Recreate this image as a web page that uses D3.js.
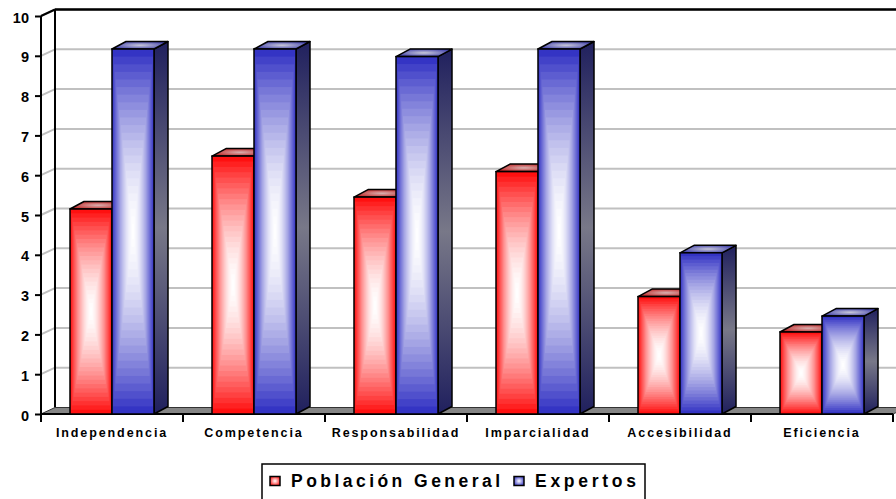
<!DOCTYPE html>
<html><head><meta charset="utf-8">
<script src="https://cdn.jsdelivr.net/npm/d3@7"></script>
<style>body{margin:0;background:#fff}svg{display:block}</style>
</head><body>
<svg id="c" width="896" height="499"></svg>
<script>
const categories = ["Independencia","Competencia","Responsabilidad","Imparcialidad","Accesibilidad","Eficiencia"];
const seriesNames = ["Población General","Expertos"];
const poblacionGeneral = [5.15, 6.48, 5.45, 6.09, 2.95, 2.06];
const expertos = [9.17, 9.17, 8.98, 9.17, 4.05, 2.46];
const yTicks = [0,1,2,3,4,5,6,7,8,9,10];

const W = 896, H = 499;
const svg = d3.select("#c");
svg.append("rect").attr("width",W).attr("height",H).attr("fill","#fff");
const defs = svg.append("defs");

const x = d3.scaleBand().domain(categories).range([41, 893]).padding(0);
const xs = d3.scaleBand().domain(seriesNames).range([29, 113]).padding(0);
const y = d3.scaleLinear().domain([0,10]).range([414,16]);

const wdx = 14, wdy = -6.5; // wall depth
const bdx = 14, bdy = -7.5; // bar depth

const styles = {
  "Población General": {edge:"#ff1010", sideA:"#701010", sideB:"#9a7070", topEdge:"#c01818", topMid:"#d8b0b0"},
  "Expertos": {edge:"#3434c4", sideA:"#20205e", sideB:"#787888", topEdge:"#3434a8", topMid:"#c8c8d8"}
};

seriesNames.forEach((s,i)=>{
  const st = styles[s];
  const side = defs.append("linearGradient").attr("id","side"+i).attr("x1",0).attr("y1",0).attr("x2",0).attr("y2",1);
  side.append("stop").attr("offset","0").attr("stop-color",st.sideA);
  side.append("stop").attr("offset","0.5").attr("stop-color",st.sideB);
  side.append("stop").attr("offset","1").attr("stop-color",st.sideA);
  const top = defs.append("radialGradient").attr("id","top"+i).attr("cx",0.5).attr("cy",0.5).attr("r",0.6);
  top.append("stop").attr("offset","0").attr("stop-color",st.topMid);
  top.append("stop").attr("offset","1").attr("stop-color",st.topEdge);
  const leg = defs.append("radialGradient").attr("id","leg"+i).attr("cx",0.5).attr("cy",0.5).attr("r",0.6);
  leg.append("stop").attr("offset","0").attr("stop-color","#fff");
  leg.append("stop").attr("offset","1").attr("stop-color",st.edge);
});

const grid = svg.append("g");
yTicks.filter(v=>v>0).forEach(v=>{
  grid.append("line").attr("x1",41+wdx).attr("x2",W).attr("y1",y(v)+wdy).attr("y2",y(v)+wdy)
    .attr("stroke","#c0c0c0").attr("stroke-width",2);
  grid.append("line").attr("x1",41).attr("x2",41+wdx).attr("y1",y(v)).attr("y2",y(v)+wdy)
    .attr("stroke","#c0c0c0").attr("stroke-width",2);
});

const frame = svg.append("g").attr("stroke","#000").attr("fill","none");
frame.append("line").attr("x1",41+wdx).attr("x2",W).attr("y1",y(10)+wdy).attr("y2",y(10)+wdy).attr("stroke-width",2.5);
frame.append("line").attr("x1",41+wdx).attr("x2",41+wdx).attr("y1",y(10)+wdy).attr("y2",y(0)+wdy).attr("stroke-width",2);
frame.append("line").attr("x1",41).attr("x2",41+wdx).attr("y1",y(10)).attr("y2",y(10)+wdy).attr("stroke-width",2);

const fx0 = x.range()[0], fx1 = x.range()[1];
svg.append("path")
  .attr("d",`M${fx0},${y(0)}L${fx1},${y(0)}L${fx1+wdx},${y(0)+wdy}L${fx0+wdx},${y(0)+wdy}Z`)
  .attr("fill","#858585").attr("stroke","#333").attr("stroke-width",1);

const yAxis = svg.append("g").attr("transform","translate(41,0)")
  .call(d3.axisLeft(y).tickValues(yTicks).tickSize(6).tickPadding(5).tickFormat(d3.format("d")));
yAxis.select(".domain").attr("stroke","#000").attr("stroke-width",2).attr("d",`M0,${y(10)}V${y(0)}`);
yAxis.selectAll(".tick line").attr("stroke","#000").attr("stroke-width",2);
yAxis.selectAll(".tick text").attr("font-family","Liberation Sans, Arial, sans-serif")
  .attr("font-weight","bold").attr("font-size",14.5).attr("fill","#000").attr("dy","0.42em").attr("x",-12);

const xAxis = svg.append("g").attr("transform",`translate(0,${y(0)})`)
  .call(d3.axisBottom(x).tickSize(0).tickPadding(0));
xAxis.select(".domain").attr("stroke","#000").attr("stroke-width",2).attr("d",`M${fx0},0H${fx1}`);
xAxis.selectAll(".tick text").attr("font-family","Liberation Sans, Arial, sans-serif")
  .attr("font-weight","bold").attr("font-size",12.5).attr("fill","#000")
  .attr("letter-spacing","1.9px").attr("y",22.5).attr("dy",0);
const bounds = categories.map(c=>x(c)).concat([fx1]);
xAxis.selectAll("line.bnd").data(bounds).enter().append("line").attr("class","bnd")
  .attr("x1",d=>d).attr("x2",d=>d).attr("y1",0).attr("y2",8).attr("stroke","#000").attr("stroke-width",2);

const bars = svg.append("g");
const N = 24;
function drawBar(g, cat, s, si, v){
  const st = styles[s];
  const x0 = x(cat) + xs(s), w = xs.bandwidth(), x1 = x0 + w;
  const yt = y(v), yb = y(0), h = yb - yt;
  g.append("path").attr("d",`M${x1},${yt}L${x1+bdx},${yt+bdy}L${x1+bdx},${yb+bdy}L${x1},${yb}Z`)
    .attr("fill",`url(#side${si})`).attr("stroke","#000").attr("stroke-width",1.5).attr("stroke-linejoin","round");
  g.append("path").attr("d",`M${x0},${yt}L${x1},${yt}L${x1+bdx},${yt+bdy}L${x0+bdx},${yt+bdy}Z`)
    .attr("fill",`url(#top${si})`).attr("stroke","#000").attr("stroke-width",1.5).attr("stroke-linejoin","round");
  const col = d3.interpolateRgb("#ffffff", st.edge);
  for(let i=0;i<N;i++){
    const t = 1 - i/N;
    g.append("rect").attr("x",x0 + w/2*(1-t)).attr("y",yt + h/2*(1-t))
      .attr("width",w*t).attr("height",h*t).attr("fill",col(Math.pow(t,1.7)));
  }
  g.append("rect").attr("x",x0).attr("y",yt).attr("width",w).attr("height",h)
    .attr("fill","none").attr("stroke","#000").attr("stroke-width",1.5);
}
categories.forEach((c,ci)=>{
  const g = bars.append("g");
  drawBar(g, c, seriesNames[0], 0, poblacionGeneral[ci]);
  drawBar(g, c, seriesNames[1], 1, expertos[ci]);
});

const lg = svg.append("g");
lg.append("rect").attr("x",262).attr("y",464).attr("width",383).attr("height",45)
  .attr("fill","#fff").attr("stroke","#000").attr("stroke-width",1.5);
const legItems = [{name:seriesNames[0], mx:270, tx:291, tl:209},{name:seriesNames[1], mx:514, tx:535, tl:101}];
legItems.forEach((d,i)=>{
  lg.append("rect").attr("x",d.mx).attr("y",476.5).attr("width",10).attr("height",9)
    .attr("fill",`url(#leg${i})`).attr("stroke","#000").attr("stroke-width",1.5);
  lg.append("text").attr("x",d.tx).attr("y",487).text(d.name)
    .attr("font-family","Liberation Sans, Arial, sans-serif").attr("font-weight","bold")
    .attr("font-size",17.5).attr("textLength",d.tl).attr("lengthAdjust","spacing").attr("fill","#000");
});
</script>
</body></html>
